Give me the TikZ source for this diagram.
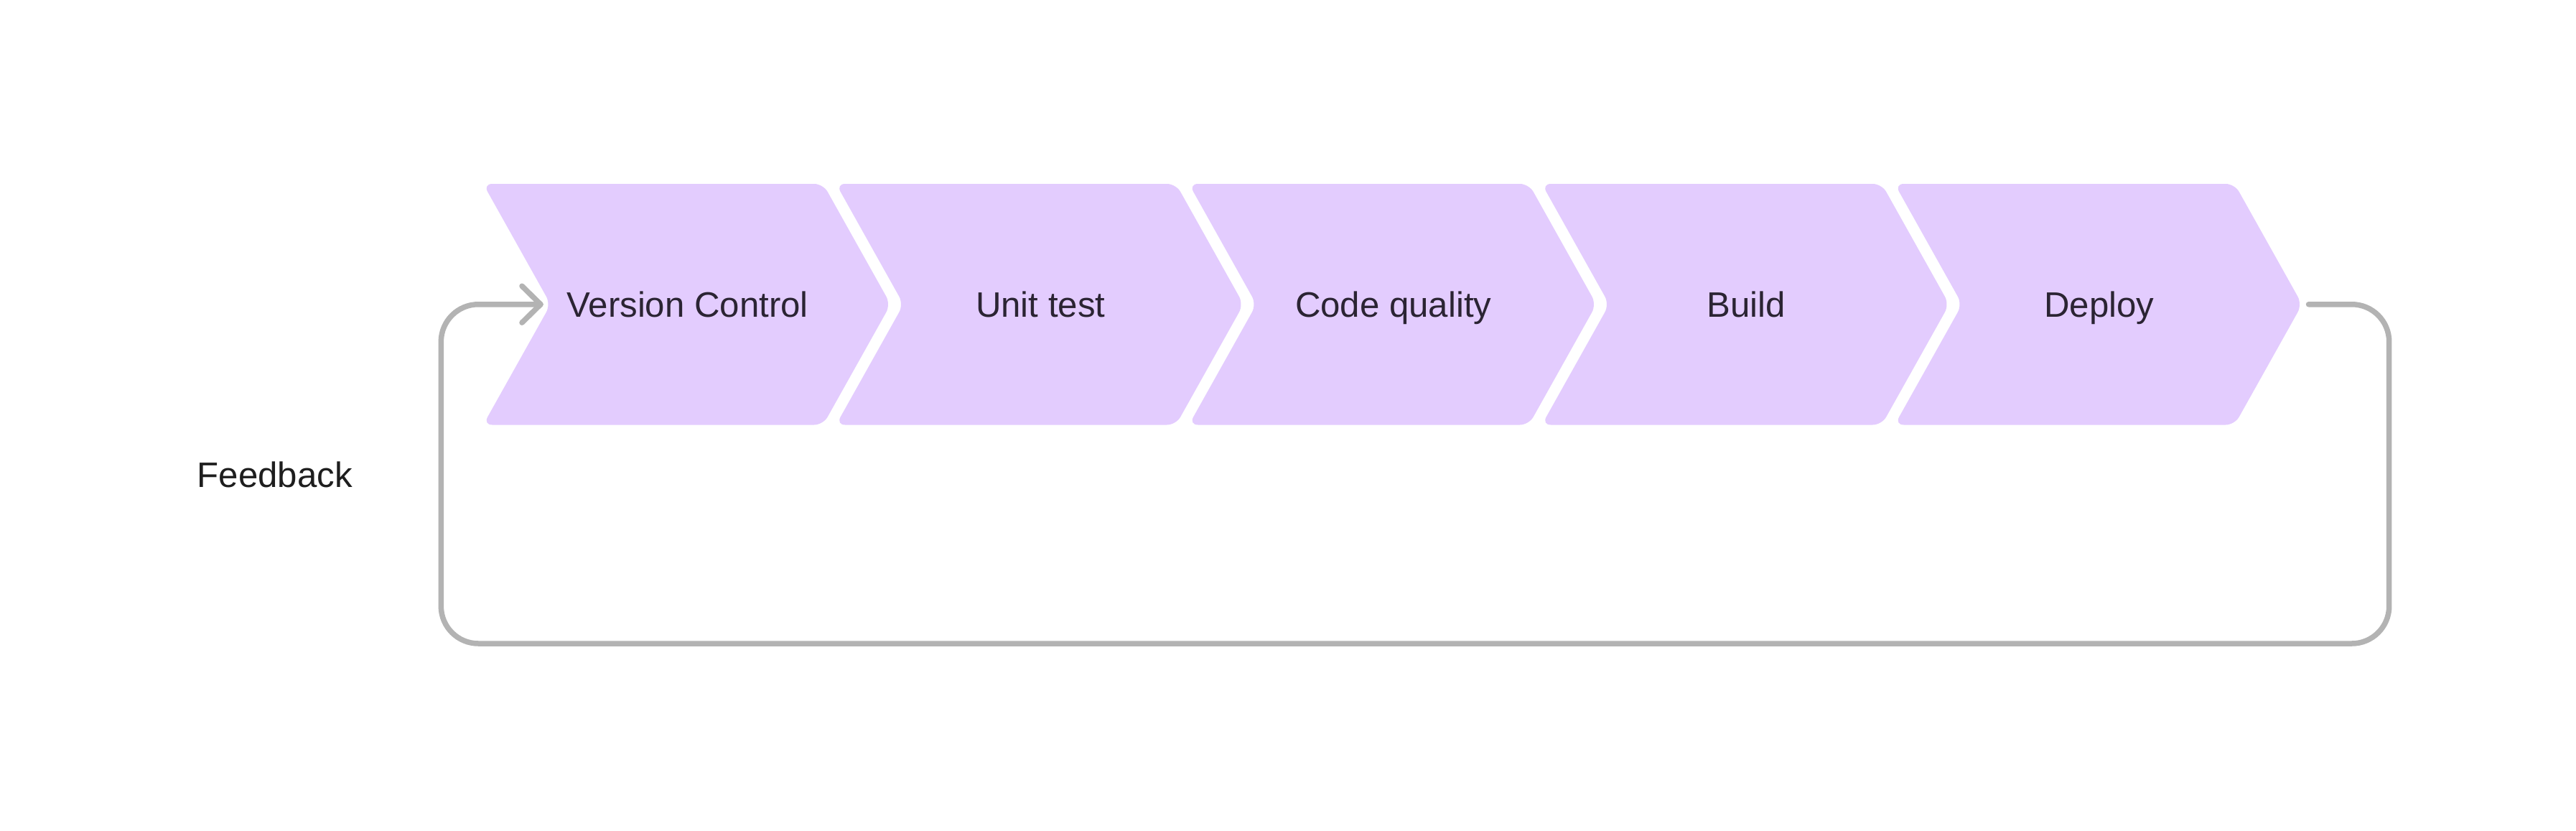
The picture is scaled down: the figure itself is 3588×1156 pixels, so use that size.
\documentclass[tikz,border=0pt]{standalone}
\usepackage{fontspec}
\setmainfont{Liberation Sans}
\usetikzlibrary{calc}
\definecolor{chevfill}{HTML}{E3CCFE}
\definecolor{chevtext}{HTML}{2B2433}
\definecolor{loopgray}{HTML}{B3B3B3}
\definecolor{fbtext}{HTML}{1E1E1E}
\begin{document}
\begin{tikzpicture}[x=0.1mm,y=-0.1mm,
  chevshape/.style={fill=chevfill, rounded corners=1.25mm},
  chevlabel/.style={text=chevtext, font=\fontsize{14pt}{17pt}\selectfont, inner sep=0pt, anchor=base},
  fblabel/.style={text=fbtext, font=\fontsize{14pt}{17pt}\selectfont, inner sep=0pt, anchor=base west},
  loopline/.style={draw=loopgray, line width=0.75mm, line cap=round, line join=round, rounded corners=5.2mm}]
\useasboundingbox[fill=white] (0,0) rectangle (3588,1156);
\foreach \t [count=\k from 0] in {Version Control, Unit test, Code quality, Build, Deploy} {
  \pgfmathsetmacro{\xl}{673+491.5*\k}
  \fill[chevshape] (\xl,256) -- ++(473.5,0) -- ++(94,167.75) -- ++(-94,167.75) -- ++(-473.5,0) -- ++(94,-167.75) -- cycle;
  \node[chevlabel] (s\k) at (\xl+284.75, 441.5) {\t};
  \coordinate (n\k) at (\xl+94, 423.75);
  \coordinate (p\k) at (\xl+567.5, 423.75);
}
\node[fblabel] (fb) at (274, 678.3) {Feedback};
\coordinate (out) at ($(p4)+(9,0)$);
\coordinate (in) at ($(n0)+(-14,0)$);
\coordinate (rb) at (3327.7,896);
\coordinate (lt) at (614.3,423.75);
\draw[loopline] (out) -| (rb) -| (lt) -- (in);
\draw[loopline, rounded corners=0pt] ($(in)+(-26,-25.5)$) -- (in) -- ($(in)+(-26,25.5)$);
\end{tikzpicture}
\end{document}
